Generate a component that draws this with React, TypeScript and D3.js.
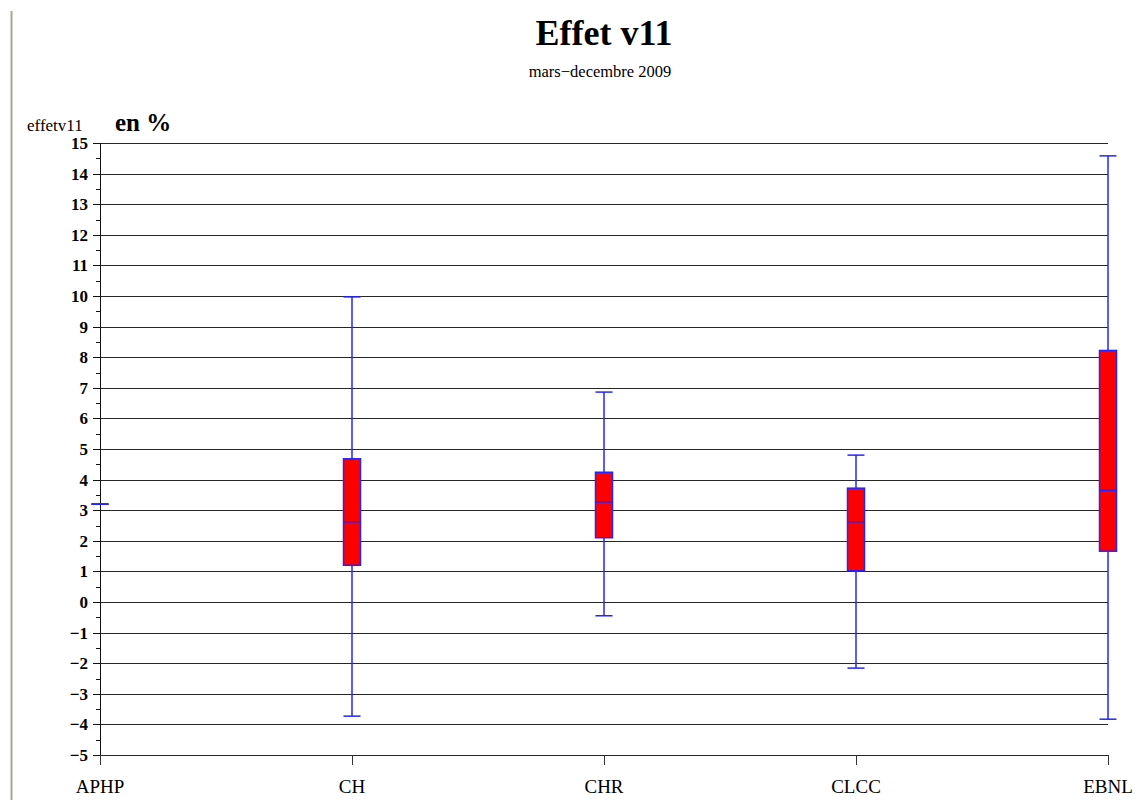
import React from 'react';
import * as d3 from 'd3';

const categories = ['APHP', 'CH', 'CHR', 'CLCC', 'EBNL'];
const whiskerLow = [3.2, -3.73, -0.45, -2.16, -3.83];
const q1 = [3.2, 1.2, 2.1, 1.02, 1.66];
const median = [3.2, 2.62, 3.27, 2.62, 3.65];
const q3 = [3.2, 4.68, 4.24, 3.72, 8.22];
const whiskerHigh = [3.2, 9.97, 6.86, 4.8, 14.58];
const yTicks = d3.range(-5, 16);
const yMinor = d3.range(-4.5, 15, 1);

const W = 1141;
const H = 800;
const font = '"Liberation Serif", "Times New Roman", serif';
const blue = '#2424ff';

const App = () => {
  const x = d3.scalePoint<string>().domain(categories).range([100, 1108]);
  const y = d3.scaleLinear().domain([-5, 15]).range([755, 143]);
  const half = 8.5;
  const crisp = (v: number) => Math.round(v) + 0.5;
  const fmt = (d: number) => (d < 0 ? '\u2212' + Math.abs(d) : String(d));

  return (
    <div style={{ position: 'absolute', left: 0, top: 0 }}>
      <svg width={W} height={H} style={{ display: 'block', background: '#fff' }}>
        <rect x={10.5} y={11} width={2} height={H - 11} fill="#a9a596" />

        <text x={604} y={45} textAnchor="middle" fontFamily={font} fontWeight="bold" fontSize={36}>
          Effet v11
        </text>
        <text x={600} y={77} textAnchor="middle" fontFamily={font} fontSize={16.5}>
          mars{'\u2212'}decembre 2009
        </text>
        <text x={27} y={131} fontFamily={font} fontSize={17}>effetv11</text>
        <text x={115} y={131} fontFamily={font} fontWeight="bold" fontSize={25}>en %</text>

        {/* grid lines */}
        {yTicks.map((t) => (
          <line key={'g' + t} x1={100} x2={1108} y1={crisp(y(t))} y2={crisp(y(t))} stroke="#262626" strokeWidth={1} />
        ))}
        {/* y axis */}
        <line x1={100.5} x2={100.5} y1={y(15)} y2={765} stroke="#111" />
        {yTicks.map((t) => (
          <g key={'t' + t}>
            <line x1={93} x2={100} y1={crisp(y(t))} y2={crisp(y(t))} stroke="#111" />
            <text x={88} y={y(t) + 6} textAnchor="end" fontFamily={font} fontWeight="bold" fontSize={17}>
              {fmt(t)}
            </text>
          </g>
        ))}
        {yMinor.map((t) => (
          <line key={'m' + t} x1={96} x2={100} y1={crisp(y(t))} y2={crisp(y(t))} stroke="#111" />
        ))}
        {/* x axis ticks and labels */}
        {categories.map((c) => (
          <g key={'x' + c}>
            <line x1={crisp(x(c)!)} x2={crisp(x(c)!)} y1={y(-5)} y2={765} stroke="#333" />
            <text x={x(c)!} y={793} textAnchor="middle" fontFamily={font} fontSize={19}>
              {c}
            </text>
          </g>
        ))}

        {/* boxes */}
        {categories.map((c, i) => {
          const cx = x(c)!;
          return (
            <g key={'b' + c} stroke={blue} strokeWidth={1.5}>
              <line x1={cx} x2={cx} y1={y(whiskerHigh[i])} y2={y(q3[i])} />
              <line x1={cx} x2={cx} y1={y(q1[i])} y2={y(whiskerLow[i])} />
              <line x1={cx - half} x2={cx + half} y1={y(whiskerHigh[i])} y2={y(whiskerHigh[i])} />
              <line x1={cx - half} x2={cx + half} y1={y(whiskerLow[i])} y2={y(whiskerLow[i])} />
              <rect x={cx - half} y={y(q3[i])} width={half * 2} height={y(q1[i]) - y(q3[i])} fill="#ff0000" />
              <line x1={cx - half} x2={cx + half} y1={y(median[i])} y2={y(median[i])} />
            </g>
          );
        })}
      </svg>
    </div>
  );
};

export default App;
